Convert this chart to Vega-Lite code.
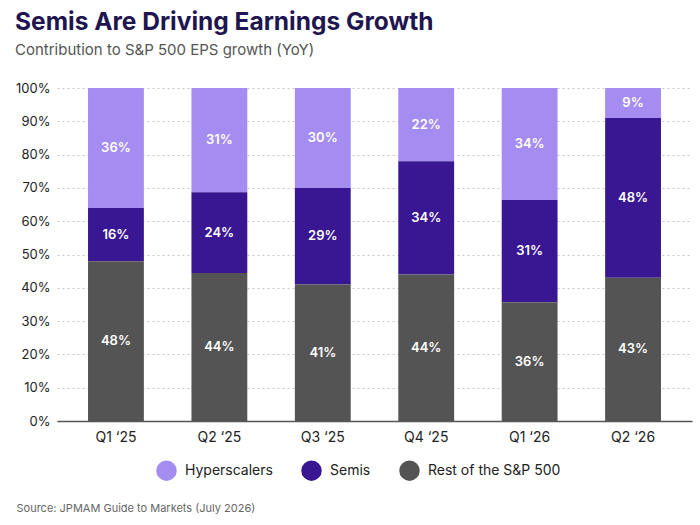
{
  "$schema": "https://vega.github.io/schema/vega-lite/v6.json",
  "autosize": {"type": "none"},
  "width": 635,
  "height": 333,
  "padding": {"left": 57, "top": 88, "right": 8, "bottom": 104},
  "background": "#ffffff",
  "config": {
    "font": "Inter",
    "view": {"stroke": null},
    "axisY": {
      "title": null,
      "format": ".0%",
      "values": [0, 0.1, 0.2, 0.3, 0.4, 0.5, 0.6, 0.7, 0.8, 0.9, 1],
      "labelOverlap": false,
      "labelFontSize": 13,
      "labelColor": "#222222",
      "labelPadding": 7,
      "ticks": false,
      "domain": false,
      "gridColor": "#c8c8c8",
      "gridDash": [2, 3],
      "gridWidth": 1
    }
  },
  "title": {
    "text": "Semis Are Driving Earnings Growth",
    "subtitle": "Contribution to S&P 500 EPS growth (YoY)",
    "anchor": "start",
    "frame": "group",
    "dx": -42,
    "offset": 23,
    "fontSize": 24.5,
    "fontWeight": 700,
    "color": "#1f1650",
    "subtitleFontSize": 15,
    "subtitleColor": "#555555",
    "subtitlePadding": 8
  },
  "data": {
    "values": [
      {"quarter": "Q1 ‘25", "segment": "Hyperscalers", "rank": 3, "share": 0.36},
      {"quarter": "Q1 ‘25", "segment": "Semis", "rank": 2, "share": 0.16},
      {"quarter": "Q1 ‘25", "segment": "Rest of the S&P 500", "rank": 1, "share": 0.48},
      {"quarter": "Q2 ‘25", "segment": "Hyperscalers", "rank": 3, "share": 0.31},
      {"quarter": "Q2 ‘25", "segment": "Semis", "rank": 2, "share": 0.24},
      {"quarter": "Q2 ‘25", "segment": "Rest of the S&P 500", "rank": 1, "share": 0.44},
      {"quarter": "Q3 ‘25", "segment": "Hyperscalers", "rank": 3, "share": 0.30},
      {"quarter": "Q3 ‘25", "segment": "Semis", "rank": 2, "share": 0.29},
      {"quarter": "Q3 ‘25", "segment": "Rest of the S&P 500", "rank": 1, "share": 0.41},
      {"quarter": "Q4 ‘25", "segment": "Hyperscalers", "rank": 3, "share": 0.22},
      {"quarter": "Q4 ‘25", "segment": "Semis", "rank": 2, "share": 0.34},
      {"quarter": "Q4 ‘25", "segment": "Rest of the S&P 500", "rank": 1, "share": 0.44},
      {"quarter": "Q1 ‘26", "segment": "Hyperscalers", "rank": 3, "share": 0.34},
      {"quarter": "Q1 ‘26", "segment": "Semis", "rank": 2, "share": 0.31},
      {"quarter": "Q1 ‘26", "segment": "Rest of the S&P 500", "rank": 1, "share": 0.36},
      {"quarter": "Q2 ‘26", "segment": "Hyperscalers", "rank": 3, "share": 0.09},
      {"quarter": "Q2 ‘26", "segment": "Semis", "rank": 2, "share": 0.48},
      {"quarter": "Q2 ‘26", "segment": "Rest of the S&P 500", "rank": 1, "share": 0.43}
    ]
  },
  "transform": [
    {
      "stack": "share",
      "groupby": ["quarter"],
      "sort": [{"field": "rank", "order": "ascending"}],
      "offset": "normalize",
      "as": ["lo", "hi"]
    },
    {"calculate": "(datum.lo + datum.hi) / 2", "as": "labelPos"}
  ],
  "encoding": {
    "x": {
      "field": "quarter",
      "type": "ordinal",
      "sort": null,
      "scale": {"paddingInner": 0.46, "paddingOuter": 0.3},
      "axis": {
        "title": "Source: JPMAM Guide to Markets (July 2026)",
        "titleAnchor": "start",
        "titleAlign": "left",
        "titleBaseline": "middle",
        "titleX": -41,
        "titleY": 87,
        "titleFontSize": 11,
        "titleFontWeight": "normal",
        "titleColor": "#666666",
        "labelAngle": 0,
        "labelFontSize": 14,
        "labelColor": "#222222",
        "labelPadding": 9,
        "ticks": false,
        "domainColor": "#555555",
        "domainWidth": 1.5,
        "grid": false
      }
    }
  },
  "layer": [
    {
      "mark": {"type": "bar"},
      "encoding": {
        "y": {
          "field": "lo",
          "type": "quantitative",
          "title": null,
          "scale": {"domain": [0, 1], "nice": false}
        },
        "y2": {"field": "hi"},
        "color": {
          "field": "segment",
          "type": "nominal",
          "scale": {
            "domain": ["Hyperscalers", "Semis", "Rest of the S&P 500"],
            "range": ["#a58cf0", "#3a1792", "#545454"]
          },
          "legend": {
            "title": null,
            "orient": "none",
            "direction": "horizontal",
            "legendX": 99,
            "legendY": 372,
            "symbolType": "circle",
            "symbolSize": 420,
            "symbolStrokeWidth": 0,
            "symbolOpacity": 1,
            "labelFontSize": 14,
            "labelColor": "#222222",
            "labelOffset": 8,
            "columnPadding": 28
          }
        }
      }
    },
    {
      "mark": {"type": "text", "color": "#ffffff", "fontSize": 13, "fontWeight": 600},
      "encoding": {
        "y": {"field": "labelPos", "type": "quantitative", "title": null},
        "text": {"field": "share", "type": "quantitative", "format": ".0%"}
      }
    }
  ]
}
